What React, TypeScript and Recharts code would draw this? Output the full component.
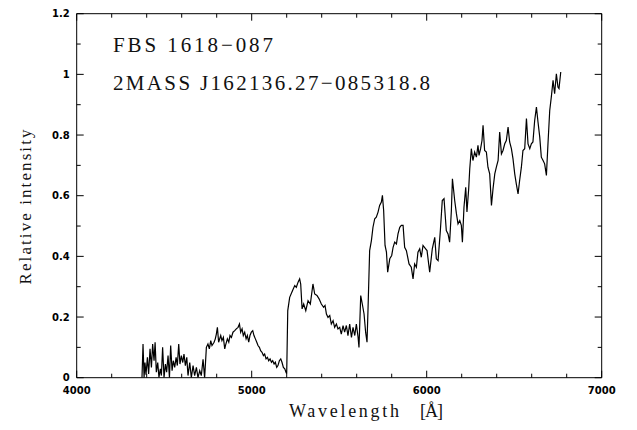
import React from 'react';
import { LineChart, Line, XAxis, YAxis, Customized } from 'recharts';

const wavelength = [
  4373, 4379, 4385, 4390, 4396, 4404, 4411, 4419, 4427, 4434, 4442, 4448, 4455, 4463, 4470, 4478, 4484, 4491, 4499, 4507,
  4514, 4522, 4530, 4537, 4545, 4552, 4560, 4568, 4575, 4583, 4590, 4598, 4606, 4613, 4621, 4629, 4636, 4646, 4655, 4665,
  4674, 4684, 4693, 4703, 4712, 4722, 4731, 4741, 4750, 4758, 4766, 4773, 4785, 4792, 4798, 4804, 4811, 4823, 4830, 4838,
  4846, 4850, 4861, 4869, 4876, 4884, 4893, 4903, 4912, 4922, 4930, 4937, 4945, 4952, 4960, 4968, 4975, 4983, 4990, 4998,
  5006, 5013, 5021, 5029, 5036, 5044, 5051, 5059, 5067, 5074, 5082, 5090, 5097, 5105, 5113, 5120, 5128, 5135, 5143, 5150,
  5158, 5166, 5173, 5181, 5189, 5196, 5200, 5206, 5217, 5233, 5246, 5255, 5265, 5274, 5280, 5288, 5297, 5309, 5322, 5335,
  5350, 5360, 5373, 5385, 5398, 5411, 5419, 5427, 5436, 5446, 5455, 5465, 5474, 5484, 5493, 5503, 5512, 5522, 5531, 5541,
  5550, 5560, 5570, 5579, 5589, 5598, 5608, 5613, 5623, 5632, 5642, 5651, 5659, 5665, 5674, 5684, 5693, 5703, 5712, 5722,
  5731, 5741, 5747, 5754, 5762, 5770, 5777, 5789, 5800, 5808, 5817, 5827, 5836, 5846, 5855, 5865, 5874, 5884, 5899, 5912,
  5922, 5931, 5941, 5950, 5960, 5969, 5979, 5994, 6002, 6017, 6032, 6046, 6055, 6065, 6078, 6089, 6099, 6112, 6122, 6131,
  6141, 6147, 6160, 6170, 6179, 6189, 6198, 6204, 6213, 6223, 6230, 6240, 6246, 6255, 6264, 6274, 6284, 6293, 6299, 6308,
  6316, 6322, 6331, 6341, 6350, 6360, 6370, 6379, 6389, 6398, 6408, 6417, 6427, 6436, 6446, 6455, 6465, 6474, 6484, 6493,
  6503, 6512, 6522, 6531, 6541, 6550, 6560, 6570, 6579, 6589, 6598, 6607, 6617, 6627, 6636, 6646, 6655, 6665, 6674, 6684,
  6693, 6703, 6712, 6722, 6731, 6741, 6750, 6756, 6766,
];

const intensity = [
  0, 0.111, 0, 0.05, 0.01, 0.067, 0.012, 0.095, 0.034, 0.111, 0.056, 0.117, 0.018, 0.05, 0.001, 0.029, 0.007, 0.1, 0, 0.045,
  0.018, 0.073, 0, 0.106, 0.023, 0.056, 0.034, 0.067, 0.04, 0.111, 0.045, 0.073, 0.05, 0.078, 0.04, 0.067, 0.007, 0.05, 0, 0.04,
  0.007, 0.034, 0, 0.023, 0.007, 0.061, 0, 0.1, 0.111, 0.095, 0.122, 0.106, 0.117, 0.128, 0.144, 0.166, 0.117, 0.139, 0.122, 0.133,
  0.095, 0.106, 0.128, 0.117, 0.139, 0.133, 0.15, 0.155, 0.161, 0.166, 0.177, 0.15, 0.161, 0.139, 0.15, 0.128, 0.139, 0.117, 0.139, 0.15,
  0.155, 0.139, 0.128, 0.117, 0.106, 0.1, 0.089, 0.084, 0.073, 0.078, 0.062, 0.067, 0.056, 0.062, 0.051, 0.056, 0.045, 0.051, 0.034, 0.04,
  0.056, 0.062, 0.051, 0.034, 0.029, 0.018, 0.013, 0.221, 0.265, 0.287, 0.304, 0.298, 0.315, 0.326, 0.309, 0.227, 0.243, 0.221, 0.254, 0.243,
  0.309, 0.276, 0.271, 0.26, 0.243, 0.232, 0.238, 0.21, 0.199, 0.205, 0.177, 0.188, 0.166, 0.177, 0.161, 0.166, 0.144, 0.172, 0.15, 0.172,
  0.139, 0.177, 0.133, 0.166, 0.139, 0.177, 0.133, 0.1, 0.271, 0.243, 0.21, 0.15, 0.117, 0.232, 0.419, 0.452, 0.496, 0.524, 0.529, 0.546,
  0.568, 0.579, 0.601, 0.551, 0.436, 0.414, 0.348, 0.392, 0.403, 0.43, 0.447, 0.441, 0.474, 0.496, 0.502, 0.502, 0.43, 0.419, 0.375, 0.364,
  0.326, 0.375, 0.364, 0.414, 0.425, 0.397, 0.436, 0.425, 0.419, 0.348, 0.425, 0.463, 0.392, 0.386, 0.485, 0.584, 0.59, 0.485, 0.474, 0.447,
  0.551, 0.656, 0.584, 0.54, 0.507, 0.518, 0.502, 0.447, 0.562, 0.628, 0.546, 0.623, 0.689, 0.755, 0.716, 0.744, 0.727, 0.766, 0.733, 0.755,
  0.782, 0.832, 0.749, 0.744, 0.694, 0.672, 0.568, 0.623, 0.672, 0.694, 0.716, 0.81, 0.738, 0.749, 0.771, 0.782, 0.826, 0.777, 0.755, 0.722,
  0.672, 0.639, 0.606, 0.65, 0.694, 0.749, 0.755, 0.854, 0.771, 0.755, 0.771, 0.777, 0.848, 0.892, 0.843, 0.793, 0.727, 0.716, 0.705, 0.667,
  0.771, 0.881, 0.925, 0.98, 0.936, 1.002, 0.958, 0.953, 1.008,
];

const xMajorTicks = [4000, 5000, 6000, 7000];
const xTickLabels = ['4000', '5000', '6000', '7000'];
const xAllTicks = [
  4000, 4200, 4400, 4600, 4800, 5000, 5200, 5400, 5600, 5800, 6000, 6200, 6400, 6600, 6800, 7000,
];
const yMajorTicks = [0, 0.2, 0.4, 0.6, 0.8, 1, 1.2];
const yTickLabels = ['0', '0.2', '0.4', '0.6', '0.8', '1', '1.2'];
const yAllTicks = [0, 0.1, 0.2, 0.3, 0.4, 0.5, 0.6, 0.7, 0.8, 0.9, 1, 1.1, 1.2];

const titleLine1 = 'FBS  1618\u2212087';
const titleLine2 = '2MASS  J162136.27\u2212085318.8';
const xTitleWord = 'Wavelength';
const xTitleUnit = '[\u00C5]';
const yTitle = 'Relative intensity';

const data = wavelength.map((w, i) => ({ w, v: intensity[i] }));

const MAJOR = 7;
const MINOR = 4;
const tickFont = { fontFamily: '"DejaVu Sans", sans-serif', fontSize: 10, fontWeight: 700 as const };
const serifStyle = { fontFamily: '"Liberation Serif", "DejaVu Serif", serif', fill: '#111' };

const majorIndex = (arr: number[], v: number) => arr.findIndex((a) => Math.abs(a - v) < 1e-6);

const BottomTick = (props: any) => {
  const { x, y, payload } = props;
  const mi = majorIndex(xMajorTicks, payload.value);
  const len = mi >= 0 ? MAJOR : MINOR;
  return (
    <g>
      <line x1={x} y1={y} x2={x} y2={y - len} stroke="#000" strokeWidth={1} />
      {mi >= 0 && (
        <text x={x} y={y + 16} textAnchor="middle" fill="#000" style={tickFont}>
          {xTickLabels[mi]}
        </text>
      )}
    </g>
  );
};

const TopTick = (props: any) => {
  const { x, y, payload } = props;
  const mi = majorIndex(xMajorTicks, payload.value);
  const len = mi >= 0 ? MAJOR : MINOR;
  return <line x1={x} y1={y} x2={x} y2={y + len} stroke="#000" strokeWidth={1} />;
};

const LeftTick = (props: any) => {
  const { x, y, payload } = props;
  const mi = majorIndex(yMajorTicks, payload.value);
  const len = mi >= 0 ? MAJOR : MINOR;
  return (
    <g>
      <line x1={x} y1={y} x2={x + len} y2={y} stroke="#000" strokeWidth={1} />
      {mi >= 0 && (
        <text x={x - 7} y={y + 3.7} textAnchor="end" fill="#000" style={tickFont}>
          {yTickLabels[mi]}
        </text>
      )}
    </g>
  );
};

const RightTick = (props: any) => {
  const { x, y, payload } = props;
  const mi = majorIndex(yMajorTicks, payload.value);
  const len = mi >= 0 ? MAJOR : MINOR;
  return <line x1={x} y1={y} x2={x - len} y2={y} stroke="#000" strokeWidth={1} />;
};

const Annotations = () => (
  <g>
    <text x={105} y={44} fontSize={21} textLength={160} lengthAdjust="spacing" style={serifStyle}>
      {titleLine1}
    </text>
    <text x={105} y={82} fontSize={21} textLength={317} lengthAdjust="spacing" style={serifStyle}>
      {titleLine2}
    </text>
    <text x={281} y={409} fontSize={18} textLength={110} lengthAdjust="spacing" style={serifStyle}>
      {xTitleWord}
    </text>
    <text x={412} y={409} fontSize={18} textLength={23} lengthAdjust="spacing" style={serifStyle}>
      {xTitleUnit}
    </text>
    <text
      x={0}
      y={0}
      fontSize={17}
      textAnchor="middle"
      textLength={155}
      lengthAdjust="spacing"
      transform="translate(23 199) rotate(-90)"
      style={serifStyle}
    >
      {yTitle}
    </text>
  </g>
);

export default function App() {
  return (
    <div style={{ width: 629, height: 420 }}>
      <LineChart
        width={629}
        height={420}
        data={data}
        margin={{ top: 4.7, right: 34.3, bottom: 49.3, left: 67.7 }}
      >
        <XAxis
          xAxisId="b"
          dataKey="w"
          type="number"
          domain={[4000, 7000]}
          ticks={xAllTicks}
          interval={0}
          height={1}
          tickSize={0}
          tickMargin={0}
          tickLine={false}
          axisLine={{ stroke: '#000', strokeWidth: 1 }}
          tick={<BottomTick />}
          allowDataOverflow
        />
        <XAxis
          xAxisId="t"
          orientation="top"
          dataKey="w"
          type="number"
          domain={[4000, 7000]}
          ticks={xAllTicks}
          interval={0}
          height={1}
          tickSize={0}
          tickMargin={0}
          tickLine={false}
          axisLine={{ stroke: '#000', strokeWidth: 1 }}
          tick={<TopTick />}
          allowDataOverflow
        />
        <YAxis
          yAxisId="l"
          type="number"
          domain={[0, 1.2]}
          ticks={yAllTicks}
          interval={0}
          width={1}
          tickSize={0}
          tickMargin={0}
          tickLine={false}
          axisLine={{ stroke: '#000', strokeWidth: 1 }}
          tick={<LeftTick />}
          allowDataOverflow
        />
        <YAxis
          yAxisId="r"
          orientation="right"
          type="number"
          domain={[0, 1.2]}
          ticks={yAllTicks}
          interval={0}
          width={1}
          tickSize={0}
          tickMargin={0}
          tickLine={false}
          axisLine={{ stroke: '#000', strokeWidth: 1 }}
          tick={<RightTick />}
          allowDataOverflow
        />
        <Line
          xAxisId="b"
          yAxisId="l"
          type="linear"
          dataKey="v"
          stroke="#000"
          strokeWidth={1.2}
          dot={false}
          isAnimationActive={false}
        />
        <Customized component={Annotations} />
      </LineChart>
    </div>
  );
}
